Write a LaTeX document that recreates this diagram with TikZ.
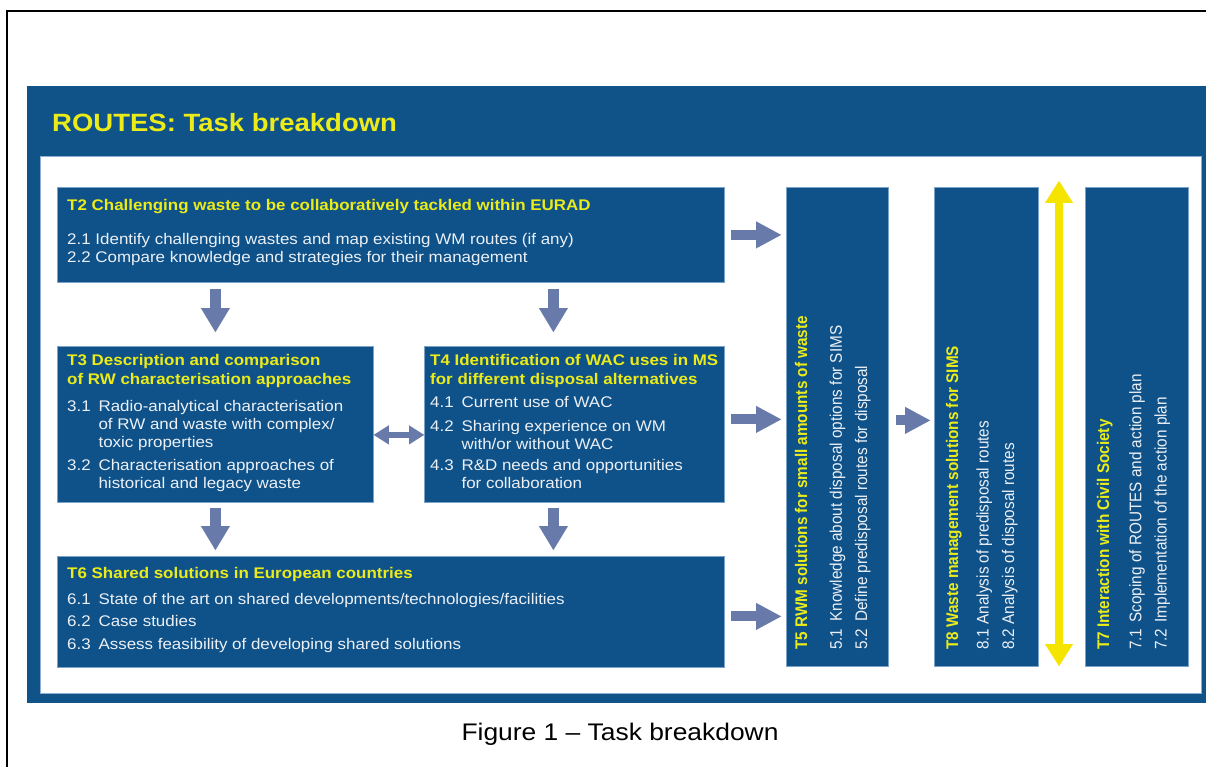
\documentclass[tikz,border=0pt]{standalone}
\usepackage{fontspec}
\setmainfont{Liberation Sans}
\usetikzlibrary{arrows.meta}

\definecolor{panelblue}{RGB}{16,83,137}
\definecolor{boxblue}{RGB}{15,82,138}
\definecolor{boxedge}{RGB}{125,162,200}
\definecolor{whiteedge}{RGB}{140,175,210}
\definecolor{arrowgray}{RGB}{104,122,170}
\definecolor{ylw}{RGB}{235,235,25}
\definecolor{ylwarrow}{RGB}{245,228,0}
\definecolor{boxtext}{RGB}{236,240,245}

% hanging indent for numbered sub-tasks
\newcommand\itm[1]{\makebox[28.5pt][l]{#1}}
\newcommand\cont{\hspace*{28.5pt}}

\begin{document}
\begin{tikzpicture}[x=1pt,y=-1pt,
  tbox/.style={fill=boxblue, draw=boxedge, line width=0.8pt, inner sep=0pt, anchor=north west},
  txt/.style={anchor=north west, inner sep=0pt, align=left, xscale=1.1, text=boxtext,
    font=\fontsize{15.4}{18.3}\selectfont},
  ttl/.style={txt, text=ylw, font=\fontsize{15.4}{18.3}\selectfont\bfseries},
  rtxt/.style={anchor=north west, inner sep=0pt, align=left, xscale=1.1, rotate=90, text=boxtext,
    font=\fontsize{15.3}{23}\selectfont},
  fatright/.style={draw=arrowgray, line width=10pt,
    -{Triangle[length=25pt,width=27pt,line width=0.01pt]}, shorten <=6pt, shorten >=5pt},
  fatdown/.style={draw=arrowgray, line width=11.5pt,
    -{Triangle[length=24pt,width=29pt,line width=0.01pt]}},
  twoway/.style={draw=arrowgray, line width=6pt,
    {Triangle[length=15pt,width=19pt,line width=0.01pt]}-{Triangle[length=15pt,width=19pt,line width=0.01pt]}},
  yellowway/.style={draw=ylwarrow, line width=8pt,
    {Triangle[length=22pt,width=28pt,line width=0.01pt]}-{Triangle[length=22pt,width=28pt,line width=0.01pt]}},
]
\useasboundingbox (0,0) rectangle (1206,767);

% page frame
\draw[line width=2pt] (7,767) -- (7,11) -- (1206,11);

% blue slide panel and white working area
\node[fill=panelblue, inner sep=0pt, anchor=north west, minimum width=1179pt, minimum height=617pt] (panel) at (27,86) {};
\node[fill=white, draw=whiteedge, line width=1.2pt, inner sep=0pt, anchor=north west,
  minimum width=1161pt, minimum height=537pt] (area) at (40,156) {};
\node[anchor=base west, inner sep=0pt, xscale=1.1, text=ylw, font=\fontsize{25}{30}\selectfont\bfseries]
  (head) at (52,132) {ROUTES: Task breakdown};

% task boxes
\node[tbox, minimum width=667pt, minimum height=95pt]  (t2) at (57,187) {};
\node[tbox, minimum width=316pt, minimum height=156pt] (t3) at (57,346) {};
\node[tbox, minimum width=300pt, minimum height=156pt] (t4) at (424,346) {};
\node[tbox, minimum width=667pt, minimum height=111pt] (t6) at (57,556) {};
\node[tbox, minimum width=102pt, minimum height=479pt] (t5) at (786,187) {};
\node[tbox, minimum width=104pt, minimum height=479pt] (t8) at (934,187) {};
\node[tbox, minimum width=103pt, minimum height=479pt] (t7) at (1085,187) {};

% connectors
\coordinate (a4) at ([yshift=5pt]t4.east);
\coordinate (a6) at ([yshift=-4.5pt]t6.east);
\coordinate (a5) at ([yshift=6.5pt]t5.east);
\coordinate (b4n) at ([xshift=-21pt]t4.north);
\coordinate (b4s) at ([xshift=-21pt]t4.south);
\coordinate (c3) at ([yshift=-10.5pt]t3.east);
\coordinate (ytop) at (1059,181);
\coordinate (ybot) at (1059,666);

\draw[fatright] (t2.east) -- (t2.east -| t5.west);
\draw[fatright] (a4) -- (a4 -| t5.west);
\draw[fatright] (a6) -- (a6 -| t5.west);
\draw[fatright, shorten <=7pt, shorten >=4pt] (a5) -- (a5 -| t8.west);
\draw[fatdown, shorten <=6pt, shorten >=14pt] (t3.north |- t2.south) -- (t3.north);
\draw[fatdown, shorten <=6pt, shorten >=14pt] (b4n |- t2.south) -- (b4n);
\draw[fatdown, shorten <=5pt, shorten >=6pt] (t3.south) -- (t3.south |- t6.north);
\draw[fatdown, shorten <=5pt, shorten >=6pt] (b4s) -- (b4s |- t6.north);
\draw[twoway] (c3) -- (c3 -| t4.west);
\draw[yellowway] (ytop) -- (ybot);

% texts of T2
\node[ttl] (t2h) at (67,197.2) {\strut T2 Challenging waste to be collaboratively tackled within EURAD};
\node[txt] (t2b) at (67,231.5) {\strut 2.1 Identify challenging wastes and map existing WM routes (if any)\\
  2.2 Compare knowledge and strategies for their management};

% texts of T3
\node[ttl] (t3h) at (67,352.9) {\strut T3 Description and comparison\\of RW characterisation approaches};
\node[txt] (t3b) at (67,398.2) {\strut\itm{3.1}Radio-analytical characterisation\\
  \cont of RW and waste with complex/\\
  \cont toxic properties\\[4pt]
  \itm{3.2}Characterisation approaches of\\
  \cont historical and legacy waste};

% texts of T4
\node[ttl] (t4h) at (430,352.9) {\strut T4 Identification of WAC uses in MS\\for different disposal alternatives};
\node[txt] (t4b) at (430,394.2) {\strut\itm{4.1}Current use of WAC\\[5.7pt]
  \itm{4.2}Sharing experience on WM\\
  \cont with/or without WAC\\[2.7pt]
  \itm{4.3}R\&D needs and opportunities\\
  \cont for collaboration};

% texts of T6
\node[ttl] (t6h) at (67,565.2) {\strut T6 Shared solutions in European countries};
\node[txt] (t6b) at (67,591.2) {\strut\itm{6.1}State of the art on shared developments/technologies/facilities\\[4.2pt]
  \itm{6.2}Case studies\\[4.2pt]
  \itm{6.3}Assess feasibility of developing shared solutions};

% vertical texts of T5, T8, T7
\node[rtxt] (t5x) at (789.3,650) {\strut\textcolor{ylw}{\bfseries T5 RWM solutions for small amounts of waste}\\[8.4pt]
  5.1\hspace{0.45em}Knowledge about disposal options for SIMS\\
  5.2\hspace{0.45em}Define predisposal routes for disposal};
\node[rtxt] (t8x) at (940.3,650) {\strut\textcolor{ylw}{\bfseries T8 Waste management solutions for SIMS}\\[4.7pt]
  8.1 Analysis of predisposal routes\\
  8.2 Analysis of disposal routes};
\node[rtxt] (t7x) at (1091.3,650) {\strut\textcolor{ylw}{\bfseries T7 Interaction with Civil Society}\\[6.1pt]
  7.1\hspace{0.4em}Scoping of ROUTES and action plan\\
  7.2\hspace{0.4em}Implementation of the action plan};

% caption
\node[anchor=base, inner sep=0pt, xscale=1.1, font=\fontsize{24}{28}\selectfont] (cap) at (620,740) {Figure 1 – Task breakdown};
\end{tikzpicture}
\end{document}
